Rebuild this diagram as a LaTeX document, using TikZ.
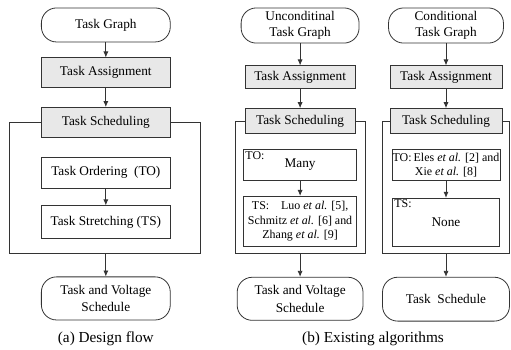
\documentclass[tikz,border=0pt]{standalone}
\usepackage{fontspec}
\setmainfont{Liberation Serif}
\usepackage{tikz}
\usetikzlibrary{arrows.meta, positioning}

\begin{document}
\begin{tikzpicture}[
        node distance=0.5cm,
        terminal/.style={rectangle, rounded corners=0.4cm, draw=black!80, line width=0.6pt, align=center, inner sep=1pt, font=\fontsize{10}{12}\selectfont},
        stage/.style={rectangle, draw=black!80, line width=0.6pt, fill=gray!18, align=center, inner sep=1pt, font=\fontsize{10}{12}\selectfont},
        substep/.style={rectangle, draw=black!80, line width=0.6pt, align=center, inner sep=1pt, font=\fontsize{10}{12}\selectfont},
        cite/.style={font=\fontsize{9}{10.8}\selectfont, inner xsep=0.5pt},
        tag/.style={anchor=north west, inner sep=1.5pt, font=\fontsize{9}{10}\selectfont},
        arrow/.style={line width=0.6pt, draw=black!80, -{Latex[length=4.5pt, width=3.8pt]}},
        frame/.style={line width=0.6pt, draw=black!80},
        caption/.style={font=\fontsize{11.5}{14}\selectfont}
    ]
        \useasboundingbox (0,0) rectangle (13.52,-9.26);

        % (a) Design flow
        \node (graph1) [terminal, minimum width=3.41cm, minimum height=0.90cm] at (2.80,-0.66) {Task Graph};
        \node (assign1) [stage, minimum width=3.41cm, minimum height=0.79cm, below=0.40cm of graph1] {Task Assignment};
        \node (sched1) [stage, minimum width=3.41cm, minimum height=0.79cm, below=0.50cm of assign1] {Task Scheduling};
        \node (order1) [substep, minimum width=3.41cm, minimum height=0.82cm, below=0.50cm of sched1] {Task Ordering~ (TO)};
        \node (stretch1) [substep, minimum width=3.41cm, minimum height=0.85cm, below=0.45cm of order1] {Task Stretching (TS)};
        \coordinate [below=0.40cm of stretch1] (bot1);
        \node (result1) [terminal, font=\fontsize{10}{13.5}\selectfont, minimum width=3.41cm, minimum height=1.14cm, below=0.61cm of bot1] {Task and Voltage\\Schedule};

        \draw [arrow] (graph1) -- (assign1);
        \draw [arrow] (assign1) -- (sched1);
        \draw [arrow] (order1) -- (stretch1);
        \draw [frame] (sched1.west) -| ([xshift=-2.56cm]bot1) -- ([xshift=2.49cm]bot1) |- (sched1.east);
        \draw [arrow] (bot1) -- (result1);

        % (b) unconditional task graphs
        \node (graph2) [terminal, minimum width=3.12cm, minimum height=0.93cm] at (7.94,-0.675) {Unconditinal\\Task Graph};
        \node (assign2) [stage, minimum width=2.91cm, minimum height=0.61cm, below=0.58cm of graph2] {Task Assignment};
        \node (sched2) [stage, minimum width=2.91cm, minimum height=0.66cm, below=0.50cm of assign2] {Task Scheduling};
        \node (order2) [substep, minimum width=2.99cm, minimum height=0.82cm, below=0.40cm of sched2] {Many};
        \node (stretch2) [substep, cite, minimum width=2.99cm, minimum height=1.32cm, below=0.40cm of order2] {TS:\hspace{1em}Luo \emph{et al.} [5],\\Schmitz \emph{et al.} [6] and\\Zhang \emph{et al.} [9]};
        \node (tagO2) [tag] at (order2.north west) {TO:};
        \coordinate [below=0.19cm of stretch2] (bot2);
        \node (result2) [terminal, font=\fontsize{10}{13.5}\selectfont, minimum width=3.33cm, minimum height=1.14cm, below=0.61cm of bot2] {Task and Voltage\\Schedule};

        \draw [arrow] (graph2) -- (assign2);
        \draw [arrow] (assign2) -- (sched2);
        \draw [arrow] (order2) -- (stretch2);
        \draw [frame] (sched2.west) -| ([xshift=-1.70cm]bot2) -- ([xshift=1.72cm]bot2) |- (sched2.east);
        \draw [arrow] (bot2) -- (result2);

        % (b) conditional task graphs
        \node (graph3) [terminal, minimum width=3.04cm, minimum height=0.93cm] at (11.80,-0.675) {Conditional\\Task Graph};
        \node (assign3) [stage, minimum width=2.96cm, minimum height=0.61cm, below=0.58cm of graph3] {Task Assignment};
        \node (sched3) [stage, minimum width=2.96cm, minimum height=0.66cm, below=0.50cm of assign3] {Task Scheduling};
        \node (order3) [substep, cite, minimum width=2.83cm, minimum height=0.82cm, below=0.40cm of sched3] {TO:\,Eles \emph{et al.} [2] and\\Xie \emph{et al.} [8]};
        \node (stretch3) [substep, minimum width=2.83cm, minimum height=1.27cm, below=0.45cm of order3] {None};
        \node (tagS3) [tag] at (stretch3.north west) {TS:};
        \coordinate [below=0.19cm of stretch3] (bot3);
        \node (result3) [terminal, minimum width=3.36cm, minimum height=1.16cm, below=0.61cm of bot3] {Task~ Schedule};

        \draw [arrow] (graph3) -- (assign3);
        \draw [arrow] (assign3) -- (sched3);
        \draw [arrow] (order3) -- (stretch3);
        \draw [frame] (sched3.west) -| ([xshift=-1.69cm]bot3) -- ([xshift=1.69cm]bot3) |- (sched3.east);
        \draw [arrow] (bot3) -- (result3);

        % Captions
        \node (capA) [caption] at (2.80,-8.96) {(a) Design flow};
        \node (capB) [caption] at (9.87,-8.96) {(b) Existing algorithms};
    \end{tikzpicture}
\end{document}
